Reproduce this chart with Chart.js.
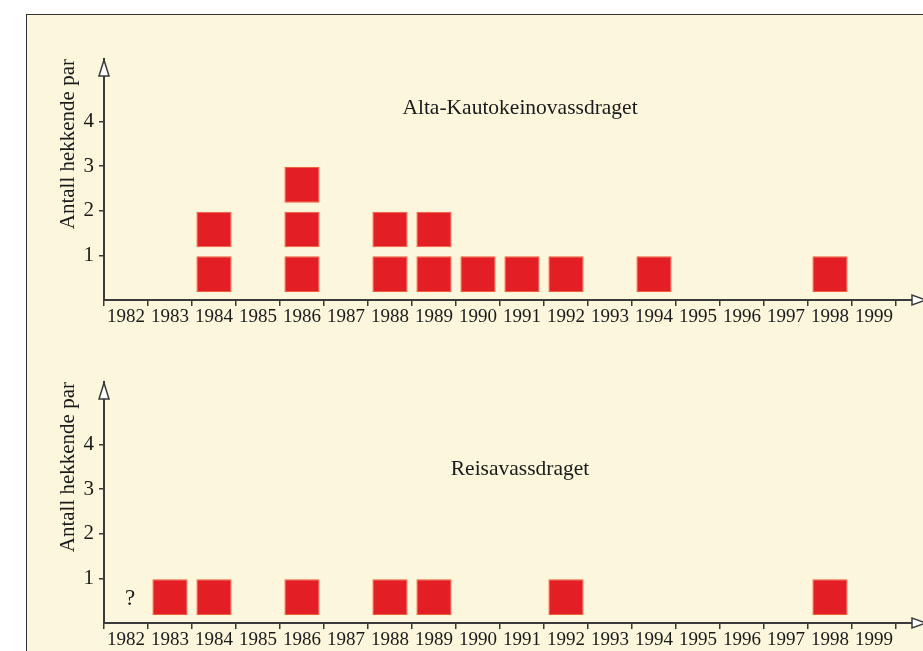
<!DOCTYPE html>
<html lang="no">

<head>
    <meta charset="UTF-8">
    <script src="https://cdn.jsdelivr.net/npm/chart.js"></script>
    <title>Antall hekkende par</title>
    <style>
        body {
            margin: 0;
            background: #ffffff;
            width: 923px;
            height: 651px;
            overflow: hidden;
            position: relative;
        }

        .frame {
            position: absolute;
            left: 26px;
            top: 14px;
            width: 920px;
            height: 660px;
            background: #fcf6dc;
            border: 1.5px solid #333;
        }

        .panel {
            position: absolute;
            left: 0;
            width: 923px;
            height: 328px;
        }
    </style>
</head>

<body>
    <div class="frame"></div>
    <div class="panel" style="top: 0px;"><canvas id="altaChart"></canvas></div>
    <div class="panel" style="top: 323px;"><canvas id="reisaChart"></canvas></div>
    <script>
        const years = ['1982', '1983', '1984', '1985', '1986', '1987', '1988', '1989', '1990',
            '1991', '1992', '1993', '1994', '1995', '1996', '1997', '1998', '1999'];
        const altaPairs = [0, 0, 2, 0, 3, 0, 2, 2, 1, 1, 1, 0, 1, 0, 0, 0, 1, 0];
        const reisaPairs = [0, 1, 1, 0, 1, 0, 1, 1, 0, 0, 1, 0, 0, 0, 0, 0, 1, 0];
        const yTicks = [1, 2, 3, 4];
        const yTitle = 'Antall hekkende par';

        const serif = '"Liberation Serif", "DejaVu Serif", serif';
        const axisColor = '#3a3a3a';
        const textColor = '#1a1a1a';

        // one dataset per "row" of squares: row k is drawn where the count reaches k
        function blockRows(counts) {
            const rows = [];
            const maxCount = Math.max(...counts);
            for (let k = 1; k <= maxCount; k++) {
                rows.push({
                    data: counts.map(c => c >= k ? [k - 0.82, k - 0.02] : null),
                    backgroundColor: '#e41e25',
                    borderColor: '#f0603a',
                    borderWidth: 1,
                    borderSkipped: false,
                    barPercentage: 0.8,
                    categoryPercentage: 1.0,
                    grouped: false
                });
            }
            return rows;
        }

        // arrows on the axes + the panel name
        const decor = {
            id: 'decor',
            afterDraw(chart, args, opts) {
                const ctx = chart.ctx;
                const a = chart.chartArea;
                const x0 = a.left, y0 = a.bottom;
                ctx.save();
                ctx.strokeStyle = axisColor;
                ctx.lineWidth = 2;
                // x axis runs on past the last year
                ctx.beginPath();
                ctx.moveTo(a.right, y0);
                ctx.lineTo(a.right + 20, y0);
                ctx.stroke();
                // x arrow head
                ctx.lineWidth = 1.5;
                ctx.fillStyle = '#ffffff';
                ctx.beginPath();
                ctx.moveTo(a.right + 30, y0);
                ctx.lineTo(a.right + 16, y0 - 5);
                ctx.lineTo(a.right + 16, y0 + 5);
                ctx.closePath();
                ctx.fill();
                ctx.stroke();
                // y arrow head
                ctx.beginPath();
                ctx.moveTo(x0, a.top + 1);
                ctx.lineTo(x0 - 5, a.top + 17);
                ctx.lineTo(x0 + 5, a.top + 17);
                ctx.closePath();
                ctx.fill();
                ctx.stroke();

                ctx.fillStyle = textColor;
                ctx.textAlign = 'center';
                ctx.textBaseline = 'middle';
                ctx.font = '21.5px ' + serif;
                ctx.fillText(opts.name, opts.nameX, opts.nameY);
                if (opts.unknown) {
                    const xs = chart.scales.x, ys = chart.scales.y;
                    ctx.font = '23px ' + serif;
                    ctx.fillText('?', xs.getPixelForValue(opts.unknown) + 4, ys.getPixelForValue(0.55));
                }
                ctx.restore();
            }
        };

        function makeChart(id, counts, name, nameY, unknown) {
            const ctx = document.getElementById(id).getContext('2d');
            return new Chart(ctx, {
                type: 'bar',
                data: {
                    labels: years,
                    datasets: blockRows(counts)
                },
                options: {
                    responsive: true,
                    maintainAspectRatio: false,
                    animation: false,
                    layout: {
                        padding: { left: 51, right: 27, top: 59, bottom: 0 }
                    },
                    plugins: {
                        legend: { display: false },
                        tooltip: { enabled: false },
                        decor: { name: name, nameX: 520, nameY: nameY, unknown: unknown }
                    },
                    scales: {
                        x: {
                            offset: true,
                            grid: {
                                offset: true,
                                drawOnChartArea: false,
                                drawTicks: true,
                                tickLength: 6,
                                color: axisColor,
                                lineWidth: 1.5
                            },
                            border: { display: true, color: axisColor, width: 2 },
                            ticks: {
                                color: textColor,
                                font: { family: serif, size: 19 },
                                padding: 0,
                                maxRotation: 0,
                                autoSkip: false
                            },
                            afterFit(s) { s.height = 28; }
                        },
                        y: {
                            min: 0,
                            max: 5.4,
                            grid: {
                                drawOnChartArea: false,
                                drawTicks: true,
                                tickLength: 5,
                                color: axisColor,
                                lineWidth: 1.5
                            },
                            border: { display: true, color: axisColor, width: 2 },
                            afterBuildTicks(s) { s.ticks = yTicks.map(v => ({ value: v })); },
                            ticks: {
                                color: textColor,
                                font: { family: serif, size: 21 },
                                padding: 5
                            },
                            title: {
                                display: true,
                                text: yTitle,
                                align: 'end',
                                color: textColor,
                                font: { family: serif, size: 21 },
                                padding: { top: 5, bottom: 0 }
                            },
                            afterFit(s) { s.width = 53; }
                        }
                    }
                },
                plugins: [decor]
            });
        }

        makeChart('altaChart', altaPairs, 'Alta-Kautokeinovassdraget', 108, null);
        makeChart('reisaChart', reisaPairs, 'Reisavassdraget', 146, '1982');
    </script>
</body>

</html>
